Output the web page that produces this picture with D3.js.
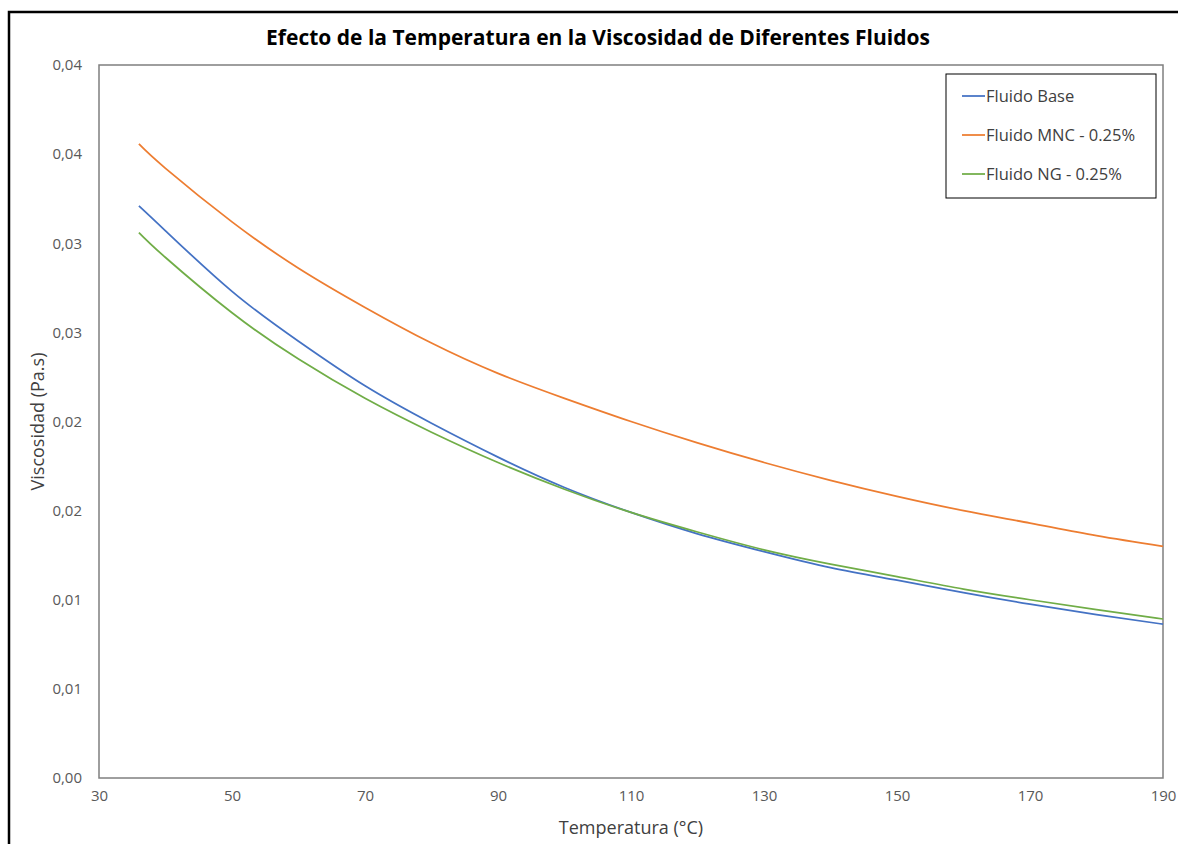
<!DOCTYPE html>
<html lang="es">
<head>
<meta charset="utf-8">
<title>Efecto de la Temperatura en la Viscosidad</title>
<style>
  body { margin: 0; background: #fff; }
  svg { display: block; font-family: "Open Sans", "Noto Sans", sans-serif; }
  .tick text { fill: #595959; font-size: 15px; font-family: "Open Sans", "Noto Sans", sans-serif; }
  .line { fill: none; stroke-width: 1.75px; }
</style>
</head>
<body>
<script src="https://d3js.org/d3.v7.min.js"></script>
<script>
// temperatures (°C)
var temps = [36, 40, 50, 60, 70, 80, 90, 100, 110, 120, 130, 140, 150, 160, 170, 180, 190];

// viscosities (Pa.s)
var base = [0.0321, 0.0307, 0.0273, 0.0245, 0.0220, 0.0199, 0.0180, 0.0163, 0.0149, 0.0137, 0.0127, 0.0118, 0.0111, 0.0104, 0.00975, 0.00917, 0.00863];
var mnc  = [0.03557, 0.0342, 0.0312, 0.0286, 0.0264, 0.0244, 0.0227, 0.0213, 0.0200, 0.0188, 0.0177, 0.0167, 0.0158, 0.0150, 0.0143, 0.0136, 0.0130];
var ng   = [0.0306, 0.0292, 0.0261, 0.0235, 0.0213, 0.0194, 0.0177, 0.0162, 0.0149, 0.0138, 0.0128, 0.0120, 0.0113, 0.0106, 0.0100, 0.00945, 0.00892];

var seriesNames = ["Fluido Base", "Fluido MNC - 0.25%", "Fluido NG - 0.25%"];
var seriesColors = ["#4472C4", "#ED7D31", "#70AD47"];

var xTicks = [30, 50, 70, 90, 110, 130, 150, 170, 190];
var yTicks = [0, 0.005, 0.01, 0.015, 0.02, 0.025, 0.03, 0.035, 0.04];
var yTickLabels = ["0,00", "0,01", "0,01", "0,02", "0,02", "0,03", "0,03", "0,04", "0,04"];

var W = 1178, H = 844;
var margin = {top: 65, right: 15, bottom: 66, left: 99};
var width = W - margin.left - margin.right,
    height = H - margin.top - margin.bottom;

var svg = d3.select("body").append("svg")
    .attr("width", W)
    .attr("height", H);

// outer chart border (runs off the right and bottom of the picture)
svg.append("rect")
    .attr("x", 9).attr("y", 12)
    .attr("width", W + 20).attr("height", H + 20)
    .attr("fill", "#fff")
    .attr("stroke", "#000")
    .attr("stroke-width", 2.5);

// title
svg.append("text")
    .attr("x", 598).attr("y", 45)
    .attr("text-anchor", "middle")
    .style("font-size", "21px")
    .style("font-weight", "bold")
    .style("fill", "#000")
    .text("Efecto de la Temperatura en la Viscosidad de Diferentes Fluidos");

var g = svg.append("g")
    .attr("transform", `translate(${margin.left},${margin.top})`);

var xScale = d3.scaleLinear().domain([30, 190]).range([0, width]);
var yScale = d3.scaleLinear().domain([0, 0.04]).range([height, 0]);

// plot area frame
g.append("rect")
    .attr("width", width).attr("height", height)
    .attr("fill", "none")
    .attr("stroke", "#7f7f7f")
    .attr("stroke-width", 1.5);

// axes
var xAxis = g.append("g")
    .attr("transform", "translate(0," + height + ")")
    .call(d3.axisBottom(xScale).tickValues(xTicks).tickSize(0).tickPadding(12));
xAxis.select(".domain").remove();

var yAxis = g.append("g")
    .call(d3.axisLeft(yScale).tickValues(yTicks).tickSize(0).tickPadding(17)
        .tickFormat((d, i) => yTickLabels[i]));
yAxis.select(".domain").remove();

// axis titles
svg.append("text")
    .attr("x", margin.left + width / 2).attr("y", 834)
    .attr("text-anchor", "middle")
    .style("font-size", "18px")
    .style("fill", "#404040")
    .text("Temperatura (°C)");

svg.append("text")
    .attr("transform", "rotate(-90)")
    .attr("x", -(margin.top + height / 2)).attr("y", 44)
    .attr("text-anchor", "middle")
    .style("font-size", "18px")
    .style("fill", "#404040")
    .text("Viscosidad (Pa.s)");

// lines
var series = [base, mnc, ng];
var valueLine = d3.line()
    .x((d, i) => xScale(temps[i]))
    .y(d => yScale(d))
    .curve(d3.curveNatural);

series.forEach(function(s, k) {
    g.append("path")
        .datum(s)
        .attr("class", "line")
        .attr("stroke", seriesColors[k])
        .attr("d", valueLine);
});

// legend
var legend = svg.append("g").attr("transform", "translate(946,74)");
legend.append("rect")
    .attr("width", 210).attr("height", 124)
    .attr("fill", "#fff")
    .attr("stroke", "#000")
    .attr("stroke-width", 1);

seriesNames.forEach(function(name, k) {
    var y = 22 + k * 39;
    legend.append("line")
        .attr("x1", 16).attr("x2", 39)
        .attr("y1", y).attr("y2", y)
        .attr("stroke", seriesColors[k])
        .attr("stroke-width", 1.75);
    legend.append("text")
        .attr("x", 40).attr("y", y + 6)
        .style("font-size", "16.5px")
        .style("fill", "#404040")
        .text(name);
});
</script>
</body>
</html>
